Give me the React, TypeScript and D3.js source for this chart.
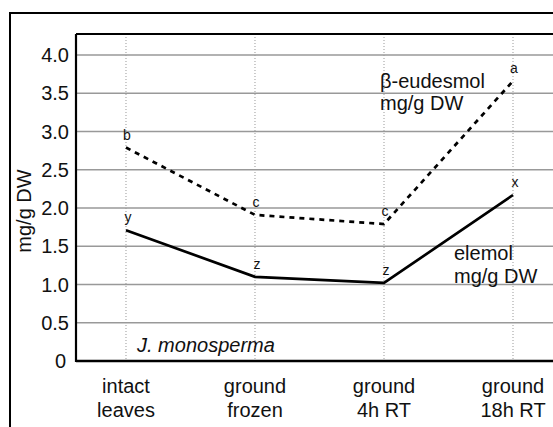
import * as d3 from "d3";

const categories = ["intact\nleaves", "ground\nfrozen", "ground\n4h RT", "ground\n18h RT"];
const eudesmol = [2.79, 1.91, 1.79, 3.66];
const eudesmolLetters = ["b", "c", "c", "a"];
const elemol = [1.71, 1.1, 1.02, 2.17];
const elemolLetters = ["y", "z", "z", "x"];
const yTicks = [0, 0.5, 1, 1.5, 2, 2.5, 3, 3.5, 4];

const W = 553;
const H = 427;
const font = "'Liberation Sans', Arial, Helvetica, sans-serif";
const fs = 20;

export default function App() {
  const left = 76;
  const top = 34;
  const bottom = 361;
  const right = 563;

  const x = d3.scalePoint<string>().domain(categories).range([left, right]).padding(0.3875);
  const y = d3.scaleLinear().domain([0, 4]).range([bottom, 55]);

  const line = d3
    .line<number>()
    .x((_, i) => x(categories[i])!)
    .y((d) => y(d));

  const fmt = (v: number) => (v === 0 ? "0" : d3.format(".1f")(v));

  return (
    <svg
      width={W}
      height={H}
      viewBox={`0 0 ${W} ${H}`}
      style={{ position: "absolute", left: 0, top: 0, background: "#fff", fontFamily: font }}
    >
      <rect x={0} y={0} width={W} height={H} fill="#fff" />
      {/* outer frame */}
      <rect x={10} y={13} width={W + 20} height={H + 20} fill="none" stroke="#000" strokeWidth={2} />

      {/* horizontal grid */}
      {yTicks.slice(1).map((t) => (
        <line key={t} x1={left} x2={right} y1={y(t)} y2={y(t)} stroke="#999" strokeWidth={1.4} />
      ))}
      {/* vertical dotted lines */}
      {categories.map((c) => (
        <line
          key={c}
          x1={x(c)}
          x2={x(c)}
          y1={top}
          y2={bottom}
          stroke="#999"
          strokeWidth={1}
          strokeDasharray="1 2"
        />
      ))}

      {/* plot border */}
      <line x1={left} x2={right} y1={top} y2={top} stroke="#000" strokeWidth={2} />
      <line x1={left} x2={left} y1={top} y2={bottom + 1} stroke="#000" strokeWidth={2.2} />
      <line x1={left} x2={right} y1={bottom} y2={bottom} stroke="#000" strokeWidth={2.5} />

      {/* y tick labels */}
      {yTicks.map((t) => (
        <text
          key={t}
          x={t === 0 ? 66 : 69}
          y={y(t)}
          dy="0.36em"
          textAnchor="end"
          fontSize={fs}
          fill="#111"
        >
          {fmt(t)}
        </text>
      ))}

      {/* y axis title */}
      <text
        transform={`translate(31,211) rotate(-90)`}
        textAnchor="middle"
        fontSize={fs}
        fill="#111"
      >
        mg/g DW
      </text>

      {/* x labels */}
      {categories.map((c) => (
        <text key={c} x={x(c)} y={393} textAnchor="middle" fontSize={fs} fill="#111">
          {c.split("\n").map((s, i) => (
            <tspan key={i} x={x(c)} dy={i === 0 ? 0 : 24}>
              {s}
            </tspan>
          ))}
        </text>
      ))}

      {/* series */}
      <path d={line(eudesmol)!} fill="none" stroke="#000" strokeWidth={2.7} strokeDasharray="5 5" />
      <path d={line(elemol)!} fill="none" stroke="#000" strokeWidth={2.7} />

      {eudesmol.map((v, i) => (
        <text key={"e" + i} x={x(categories[i])! + 1} y={y(v) - 8} textAnchor="middle" fontSize={14} fill="#111">
          {eudesmolLetters[i]}
        </text>
      ))}
      {elemol.map((v, i) => (
        <text key={"l" + i} x={x(categories[i])! + 2} y={y(v) - 8} textAnchor="middle" fontSize={14} fill="#111">
          {elemolLetters[i]}
        </text>
      ))}

      {/* series labels */}
      <text x={380} y={88} fontSize={fs} fill="#111">
        β-eudesmol
      </text>
      <text x={380} y={110} fontSize={fs} fill="#111">
        mg/g DW
      </text>
      <text x={454} y={260} fontSize={fs} fill="#111">
        elemol
      </text>
      <text x={454} y={283} fontSize={fs} fill="#111">
        mg/g DW
      </text>
      <text x={137} y={352} fontSize={fs} fontStyle="italic" fill="#111">
        J. monosperma
      </text>
    </svg>
  );
}
